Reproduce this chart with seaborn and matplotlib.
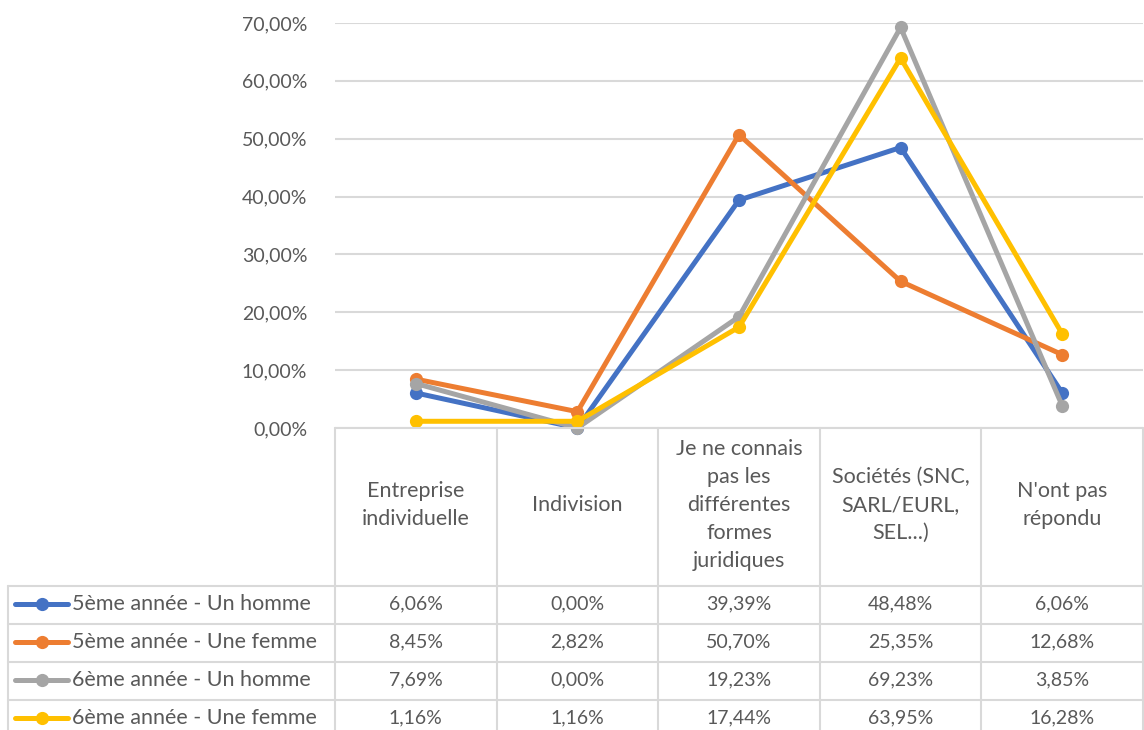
import pandas as pd
import numpy as np
import matplotlib
matplotlib.use("Agg")
import matplotlib.pyplot as plt
import matplotlib.transforms as mtransforms
from matplotlib.lines import Line2D
import seaborn as sns

# Données du graphique
categories = ["Entreprise\nindividuelle", "Indivision",
              "Je ne connais\npas les\ndifférentes\nformes\njuridiques",
              "Sociétés (SNC,\nSARL/EURL,\nSEL...)", "N'ont pas\nrépondu"]
series = ["5ème année - Un homme", "5ème année - Une femme",
          "6ème année - Un homme", "6ème année - Une femme"]
h5 = [6.06, 0.00, 39.39, 48.48, 6.06]
f5 = [8.45, 2.82, 50.70, 25.35, 12.68]
h6 = [7.69, 0.00, 19.23, 69.23, 3.85]
f6 = [1.16, 1.16, 17.44, 63.95, 16.28]
colors = ["#4472C4", "#ED7D31", "#A5A5A5", "#FFC000"]

values = [h5, f5, h6, f6]
df = pd.DataFrame({
    "pos": np.tile(np.arange(len(categories)), len(series)),
    "valeur": np.concatenate(values) / 100,
    "serie": np.repeat(series, len(categories)),
})

sns.set_style("white")
plt.rcParams["font.family"] = ["Lato", "DejaVu Sans"]
txt_col = "#595959"
grid_col = "#D9D9D9"
fs_txt = 15.5   # taille des libellés
fs_num = 14     # taille des nombres

W, H = 1144, 730
fig = plt.figure(figsize=(W / 100, H / 100), dpi=100)
x0, x1, ytop, ybot = 335, 1143, 23, 428
ax = fig.add_axes([x0 / W, 1 - ybot / H, (x1 - x0) / W, (ybot - ytop) / H])

sns.lineplot(data=df, x="pos", y="valeur", hue="serie", palette=colors,
             marker="o", markersize=9.5, markeredgewidth=0, linewidth=3.6,
             legend=False, ax=ax)

ax.set_xlim(-0.5, len(categories) - 0.5)
ax.set_ylim(0, 0.70)
ax.set_yticks(np.arange(0, 0.71, 0.10))
ax.set_yticklabels([f"{v:.2f}%".replace(".", ",") for v in np.arange(0, 71, 10)],
                   color=txt_col, fontsize=fs_num)
ax.tick_params(axis="y", length=0, pad=20)
ax.set_xticks([])
ax.set_xlabel("")
ax.set_ylabel("")
ax.grid(axis="y", color=grid_col, linewidth=1.5)
ax.set_axisbelow(True)
for s in ax.spines.values():
    s.set_visible(False)
for ln in ax.lines:
    ln.set_clip_on(False)

# Tableau de données sous le graphique
def fy(py):
    return 1 - py / H

bt = mtransforms.blended_transform_factory(ax.transData, fig.transFigure)
ft = fig.transFigure
lw = 1.5
row_tops = [586, 624, 662, 700, 738]
head_top = 428
left = 8

# lignes horizontales
fig.add_artist(Line2D([x0 / W, x1 / W], [fy(head_top)] * 2, transform=ft, color=grid_col, lw=lw))
for py in row_tops:
    fig.add_artist(Line2D([left / W, x1 / W], [fy(py)] * 2, transform=ft, color=grid_col, lw=lw))
# lignes verticales
fig.add_artist(Line2D([left / W] * 2, [fy(row_tops[0]), fy(H)], transform=ft, color=grid_col, lw=lw))
for b in np.arange(-0.5, len(categories), 1.0):
    fig.add_artist(Line2D([b, b], [fy(head_top), fy(H)], transform=bt, color=grid_col, lw=lw))

# en-têtes
for i, c in enumerate(categories):
    fig.text(i, fy(505), c, transform=bt, ha="center", va="center",
             fontsize=fs_txt, color=txt_col, linespacing=1.5)

# lignes de séries
for r, (name, vals, col) in enumerate(zip(series, values, colors)):
    yc = fy((row_tops[r] + row_tops[r + 1]) / 2 - 1)
    fig.add_artist(Line2D([15 / W, 68 / W], [yc, yc], transform=ft, color=col,
                          lw=3.6, solid_capstyle="round"))
    fig.add_artist(Line2D([42 / W], [yc], transform=ft, color=col, marker="o",
                          markersize=9.5, markeredgewidth=0))
    fig.text(72 / W, yc, name, transform=ft, ha="left", va="center",
             fontsize=fs_txt, color=txt_col)
    for i, v in enumerate(vals):
        fig.text(i, yc, f"{v:.2f}%".replace(".", ","), transform=bt,
                 ha="center", va="center", fontsize=fs_num, color=txt_col)

fig.savefig("out.png", dpi=100)
